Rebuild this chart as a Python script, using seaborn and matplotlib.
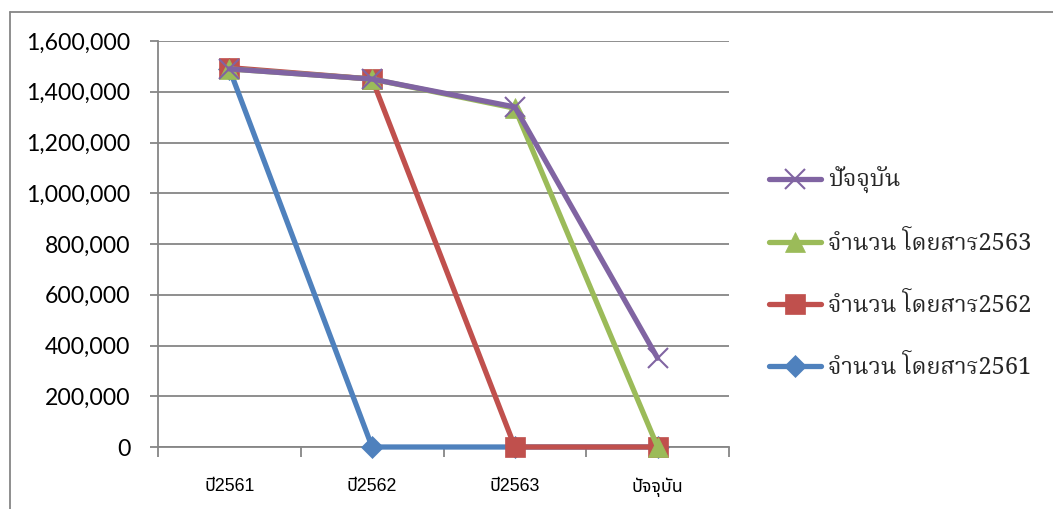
import numpy as np
import pandas as pd
import matplotlib
matplotlib.use("Agg")
import matplotlib.pyplot as plt
import seaborn as sns
from matplotlib import font_manager as fm
from matplotlib.lines import Line2D
from matplotlib.ticker import FuncFormatter, FixedLocator

# ---------------- data ----------------
categories = ["ปี2561", "ปี2562", "ปี2563", "ปัจจุบัน"]
series_names = ["จำนวน โดยสาร2561", "จำนวน โดยสาร2562", "จำนวน โดยสาร2563", "ปัจจุบัน"]
values_2561 = [1490000, 0, 0, 0]
values_2562 = [1495000, 1450000, 0, 0]
values_2563 = [1490000, 1450000, 1335000, 0]
values_now = [1490000, 1450000, 1340000, 350000]
y_ticks = [0, 200000, 400000, 600000, 800000, 1000000, 1200000, 1400000, 1600000]

colors = ["#4F81BD", "#C0504D", "#9BBB59", "#8064A2"]
markers = ["D", "s", "^", "x"]

# ---------------- fonts ----------------
thai = {}
try:
    from fontTools.ttLib import TTFont
    for f in fm.fontManager.ttflist:
        try:
            kw = {}
            if f.fname.lower().endswith((".ttc", ".otc")):
                kw["fontNumber"] = 0
            tt = TTFont(f.fname, lazy=True, **kw)
            cmap = tt.getBestCmap()
            if cmap and 0x0E1B in cmap and 0x0E31 in cmap:
                thai.setdefault(f.name, f.fname)
        except Exception:
            pass
except Exception:
    pass

def pick(prefs):
    for p in prefs:
        if p in thai:
            return p
    return next(iter(thai), None)

thai_sans = pick(["Tahoma", "Noto Sans Thai", "Noto Sans Thai UI", "Loma", "Garuda",
                  "Sarabun", "Umpush", "Waree", "Laksaman", "Kinnari"])
thai_serif = pick(["Angsana New", "Noto Serif Thai", "Norasi", "Kinnari", "Laksaman",
                   "TH Sarabun New", "Sarabun", "Noto Sans Thai", "Loma", "Garuda"])

sns.set_theme(style="white")
latin = "Lato"
plt.rcParams["font.family"] = [latin, "DejaVu Sans"]

sans_family = (["Liberation Sans", thai_sans] if thai_sans else ["Liberation Sans", "DejaVu Sans"])
serif_family = ([thai_serif, "Liberation Serif"] if thai_serif else ["Liberation Serif", "DejaVu Sans"])

# ---------------- figure ----------------
W, H = 1053, 509
fig = plt.figure(figsize=(W / 100, H / 100), dpi=100)
fig.patch.set_facecolor("white")
ax = fig.add_axes([158 / W, 1 - 447 / H, (729 - 158) / W, (447 - 41) / H])

grid_col = "#868686"

all_vals = [values_2561, values_2562, values_2563, values_now]
for i, (name, vals) in enumerate(zip(series_names, all_vals)):
    df = pd.DataFrame({"cat": categories, "val": vals})
    sns.lineplot(data=df, x="cat", y="val", ax=ax, color=colors[i], lw=3.8,
                 marker=markers[i],
                 markersize=(11 if markers[i] == "D" else 14 if markers[i] != "x" else 15),
                 markeredgewidth=(1.5 if markers[i] == "x" else 0.5),
                 markeredgecolor=colors[i], label=name, clip_on=False,
                 zorder=3 + i, sort=False)

ax.set_xlim(-0.5, 3.5)
ax.set_ylim(0, 1600000)
ax.set_xlabel("")
ax.set_ylabel("")
if ax.get_legend():
    ax.get_legend().remove()

ax.yaxis.set_major_locator(FixedLocator(y_ticks))
ax.yaxis.set_major_formatter(FuncFormatter(lambda v, p: f"{int(v):,}"))
ax.grid(axis="y", color=grid_col, lw=1.3)
ax.set_axisbelow(True)
for s in ["top", "right"]:
    ax.spines[s].set_visible(False)
for s in ["left", "bottom"]:
    ax.spines[s].set_color(grid_col)
    ax.spines[s].set_linewidth(1.3)

ax.tick_params(axis="y", which="major", direction="out", length=6, width=1.3,
               color=grid_col, pad=14, labelsize=16.6, left=True)
for lab in ax.get_yticklabels():
    lab.set_fontfamily([latin, "DejaVu Sans"])
    lab.set_color("black")

ax.set_xticks(range(len(categories)))
ax.set_xticklabels(categories)
ax.set_xticks([-0.5, 0.5, 1.5, 2.5, 3.5], minor=True)
ax.tick_params(axis="x", which="major", length=0, pad=22, labelsize=12.8)
ax.tick_params(axis="x", which="minor", direction="out", length=7, width=1.3,
               color=grid_col, bottom=True)
for lab in ax.get_xticklabels():
    lab.set_fontfamily(sans_family)
    lab.set_color("black")

# legend (reversed order like Excel)
handles, labels = ax.get_legend_handles_labels()
leg = fig.legend(handles[::-1], labels[::-1], loc="upper left",
                 bbox_to_anchor=(760 / W, 1 - 158 / H), frameon=False,
                 prop={"family": serif_family, "size": 17},
                 handlelength=2.2, handletextpad=0.3, labelspacing=1.6,
                 borderaxespad=0)

# outer chart border
fig.add_artist(Line2D([9.5 / W, 1.0], [1 - 12 / H, 1 - 12 / H], color=grid_col, lw=1.3,
                      transform=fig.transFigure))
fig.add_artist(Line2D([9.5 / W, 9.5 / W], [0, 1 - 12 / H], color=grid_col, lw=1.3,
                      transform=fig.transFigure))

fig.savefig("out.png", dpi=100, facecolor="white")
